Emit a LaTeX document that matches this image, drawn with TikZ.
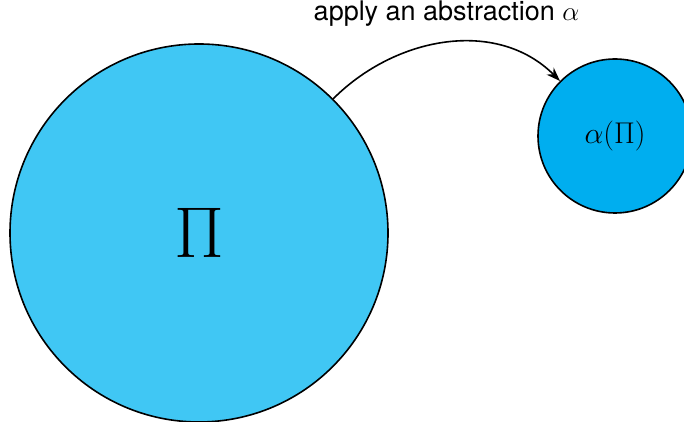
\RequirePackage{fix-cm}
\documentclass[tikz,border=0pt]{standalone}
\usepackage{fontspec}
\setsansfont{TeX Gyre Heros}
\usepackage{tikz}
\usetikzlibrary{arrows.meta}
\definecolor{bigblue}{RGB}{64,199,244}
\definecolor{smallblue}{RGB}{0,174,239}
\tikzset{
  setcircle/.style={circle, draw=black, line width=1.6pt, inner sep=0pt},
}

\begin{document}
\begin{tikzpicture}[x=1pt, y=1pt]
  \useasboundingbox (0,0) rectangle (684,422);
  \node[setcircle, fill=bigblue, minimum size=378pt, font=\fontsize{72}{76}\selectfont]
    (pi) at (199,189) {$\Pi$};
  \node[setcircle, fill=smallblue, minimum size=154pt, font=\fontsize{30}{33}\selectfont]
    (alpha) at (615,286) {$\alpha(\Pi)$};
  \draw[line width=1.6pt, -{Stealth[length=14pt, width=10pt]}]
    (pi.45) to[out=45, in=135] node[above=12pt, font=\sffamily\fontsize{27}{30}\selectfont] (lbl) {apply an abstraction $\alpha$} (alpha.135);
\end{tikzpicture}
\end{document}
